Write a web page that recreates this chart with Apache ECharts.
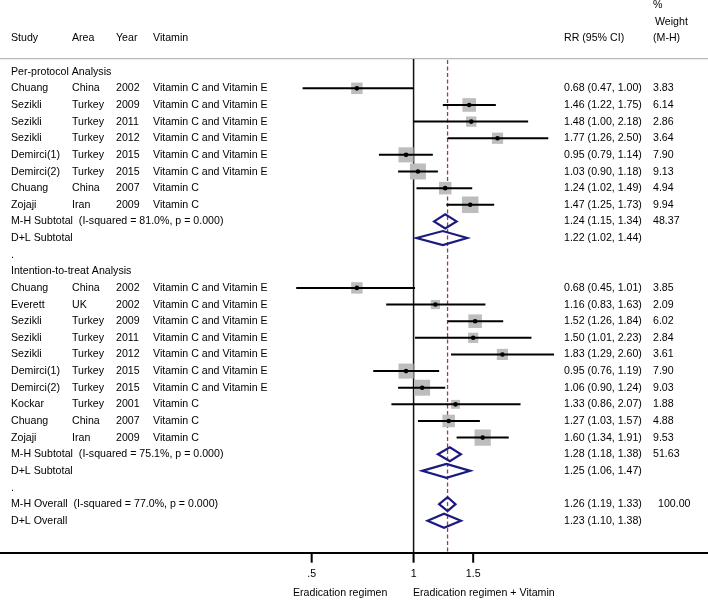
<!DOCTYPE html>
<html>
<head>
<meta charset="utf-8">
<script src="https://cdn.jsdelivr.net/npm/echarts@6/dist/echarts.min.js"></script>
<style>html,body{margin:0;padding:0;background:#fff}#c{width:708px;height:600px}</style>
</head>
<body>
<div id="c"></div>
<script>
// ---- data ----
const studyNames = ['Chuang','Sezikli','Sezikli','Sezikli','Demirci(1)','Demirci(2)','Chuang','Zojaji',
  'Chuang','Everett','Sezikli','Sezikli','Sezikli','Demirci(1)','Demirci(2)','Kockar','Chuang','Zojaji'];
const areas = ['China','Turkey','Turkey','Turkey','Turkey','Turkey','China','Iran',
  'China','UK','Turkey','Turkey','Turkey','Turkey','Turkey','Turkey','China','Iran'];
const years = ['2002','2009','2011','2012','2015','2015','2007','2009',
  '2002','2002','2009','2011','2012','2015','2015','2001','2007','2009'];
const vitamins = ['Vitamin C and Vitamin E','Vitamin C and Vitamin E','Vitamin C and Vitamin E','Vitamin C and Vitamin E','Vitamin C and Vitamin E','Vitamin C and Vitamin E','Vitamin C','Vitamin C',
  'Vitamin C and Vitamin E','Vitamin C and Vitamin E','Vitamin C and Vitamin E','Vitamin C and Vitamin E','Vitamin C and Vitamin E','Vitamin C and Vitamin E','Vitamin C and Vitamin E','Vitamin C','Vitamin C','Vitamin C'];
const rr = [0.68,1.46,1.48,1.77,0.95,1.03,1.24,1.47, 0.68,1.16,1.52,1.50,1.83,0.95,1.06,1.33,1.27,1.60];
const lo = [0.47,1.22,1.00,1.26,0.79,0.90,1.02,1.25, 0.45,0.83,1.26,1.01,1.29,0.76,0.90,0.86,1.03,1.34];
const hi = [1.00,1.75,2.18,2.50,1.14,1.18,1.49,1.73, 1.01,1.63,1.84,2.23,2.60,1.19,1.24,2.07,1.57,1.91];
const weights = [3.83,6.14,2.86,3.64,7.90,9.13,4.94,9.94, 3.85,2.09,6.02,2.84,3.61,7.90,9.03,1.88,4.88,9.53];
const studyRows = [1,2,3,4,5,6,7,8, 13,14,15,16,17,18,19,20,21,22];

const pooledLabels = ['M-H Subtotal  (I-squared = 81.0%, p = 0.000)','D+L Subtotal',
  'M-H Subtotal  (I-squared = 75.1%, p = 0.000)','D+L Subtotal',
  'M-H Overall  (I-squared = 77.0%, p = 0.000)','D+L Overall'];
const pooledRR = [1.24,1.22,1.28,1.25,1.26,1.23];
const pooledLo = [1.15,1.02,1.18,1.06,1.19,1.10];
const pooledHi = [1.34,1.44,1.38,1.47,1.33,1.38];
const pooledWeights = ['48.37','','51.63','','100.00',''];
const pooledRows = [9,10,23,24,26,27];

const sectionLabels = ['Per-protocol Analysis','.','Intention-to-treat Analysis','.'];
const sectionRows = [0,11,12,25];

const headerLabels = ['Study','Area','Year','Vitamin','RR (95% CI)','%','Weight','(M-H)'];
const tickValues = [0.5,1,1.5];
const tickLabels = ['.5','1','1.5'];
const overallRR = 1.26;
const xLabelLeft = 'Eradication regimen';
const xLabelRight = 'Eradication regimen + Vitamin';

// ---- layout (pixels) ----
const FONT = '11px "Liberation Sans", Arial, sans-serif';
const SX = 0.965;
const COL = {study:11, area:72, year:116, vit:153, rr:564, wt:653};
const AXIS_ROW = 28.92;
const TOP_ROW = -0.76;
const fmt = v => v.toFixed(2);
const ci = (a,b,c) => fmt(a) + ' (' + fmt(b) + ', ' + fmt(c) + ')';

// text table
const texts = [];
const hdr = [[COL.study,-2],[COL.area,-2],[COL.year,-2],[COL.vit,-2],[COL.rr,-2],[COL.wt,-4],[COL.wt+2,-3],[COL.wt,-2]];
headerLabels.forEach((t,i)=>texts.push({x:hdr[i][0], row:hdr[i][1], text:t}));
sectionLabels.forEach((t,i)=>texts.push({x:COL.study, row:sectionRows[i], text:t}));
studyNames.forEach((t,i)=>{
  const r = studyRows[i];
  texts.push({x:COL.study,row:r,text:t});
  texts.push({x:COL.area,row:r,text:areas[i]});
  texts.push({x:COL.year,row:r,text:years[i]});
  texts.push({x:COL.vit,row:r,text:vitamins[i]});
  texts.push({x:COL.rr,row:r,text:ci(rr[i],lo[i],hi[i])});
  texts.push({x:COL.wt,row:r,text:fmt(weights[i])});
});
pooledLabels.forEach((t,i)=>{
  const r = pooledRows[i];
  texts.push({x:COL.study,row:r,text:t});
  texts.push({x:COL.rr,row:r,text:ci(pooledRR[i],pooledLo[i],pooledHi[i])});
  if (pooledWeights[i]) texts.push({x:COL.wt + (pooledWeights[i].length>5?5:0),row:r,text:pooledWeights[i]});
});

const chart = echarts.init(document.getElementById('c'), null, {renderer:'canvas'});
const option = {
  animation:false,
  backgroundColor:'#fff',
  grid:{left:0,right:0,top:55.07,bottom:47.3,containLabel:false},
  xAxis:{type:'log',logBase:10,min:0.06,max:7.41,
    axisLine:{show:true,onZero:false,lineStyle:{color:'#000',width:2}},
    axisTick:{show:false},axisLabel:{show:false},splitLine:{show:false}},
  yAxis:{type:'value',inverse:true,min:-1,max:AXIS_ROW,show:false},
  graphic:[
    {type:'text',x:293,y:593,scaleX:SX,style:{text:xLabelLeft,font:FONT,fill:'#000',align:'left',verticalAlign:'middle'}},
    {type:'text',x:413,y:593,scaleX:SX,style:{text:xLabelRight,font:FONT,fill:'#000',align:'left',verticalAlign:'middle'}}
  ],
  series:[
    { // reference lines
      type:'custom', coordinateSystem:'cartesian2d', clip:false,
      data:[[1,TOP_ROW]],
      renderItem:(p,api)=>{
        const a = api.coord([1,TOP_ROW]), b = api.coord([1,AXIS_ROW]);
        const c = api.coord([overallRR,TOP_ROW]), d = api.coord([overallRR,AXIS_ROW]);
        return {type:'group',children:[
          {type:'line',shape:{x1:0,y1:a[1]-0.5,x2:708,y2:a[1]-0.5},style:{stroke:'#b8b8b8',lineWidth:1.3}},
          {type:'line',shape:{x1:a[0],y1:a[1],x2:b[0],y2:b[1]},style:{stroke:'#111',lineWidth:1.5}},
          {type:'line',shape:{x1:c[0],y1:c[1]+1,x2:d[0],y2:d[1]},style:{stroke:'#a33a4a',lineWidth:1.3,lineDash:[4,2.5]}}
        ]};
      }
    },
    { // studies
      type:'custom', coordinateSystem:'cartesian2d', clip:false, z:3,
      data: rr.map((v,i)=>[v,studyRows[i],lo[i],hi[i],weights[i]]),
      encode:{x:0,y:1},
      renderItem:(p,api)=>{
        const c = api.coord([api.value(0),api.value(1)]);
        const l = api.coord([api.value(2),api.value(1)]);
        const h = api.coord([api.value(3),api.value(1)]);
        const s = 3 + 4.3*Math.sqrt(api.value(4));
        return {type:'group',children:[
          {type:'rect',shape:{x:c[0]-s/2,y:c[1]-s/2,width:s,height:s},style:{fill:'#bdbdbd'}},
          {type:'line',shape:{x1:l[0],y1:l[1],x2:h[0],y2:h[1]},style:{stroke:'#000',lineWidth:2}},
          {type:'circle',shape:{cx:c[0],cy:c[1],r:2.3},style:{fill:'#000'}}
        ]};
      }
    },
    { // pooled diamonds
      type:'custom', coordinateSystem:'cartesian2d', clip:false, z:3,
      data: pooledRR.map((v,i)=>[v,pooledRows[i],pooledLo[i],pooledHi[i]]),
      encode:{x:0,y:1},
      renderItem:(p,api)=>{
        const c = api.coord([api.value(0),api.value(1)]);
        const l = api.coord([api.value(2),api.value(1)]);
        const h = api.coord([api.value(3),api.value(1)]);
        const hh = 7;
        return {type:'polygon',shape:{points:[[l[0],l[1]],[c[0],c[1]-hh],[h[0],h[1]],[c[0],c[1]+hh]]},
          style:{fill:'none',stroke:'#1a1a80',lineWidth:2.2}};
      }
    },
    { // axis ticks & labels
      type:'custom', coordinateSystem:'cartesian2d', clip:false, z:4,
      data: tickValues.map(v=>[v,AXIS_ROW]),
      encode:{x:0,y:1},
      renderItem:(p,api)=>{
        const c = api.coord([api.value(0),api.value(1)]);
        return {type:'group',children:[
          {type:'line',shape:{x1:c[0],y1:c[1],x2:c[0],y2:c[1]+10},style:{stroke:'#000',lineWidth:2}},
          {type:'text',x:c[0],y:c[1]+21,scaleX:SX,style:{text:tickLabels[p.dataIndex],font:FONT,fill:'#000',align:'center',verticalAlign:'middle'}}
        ]};
      }
    },
    { // text table
      type:'custom', coordinateSystem:'cartesian2d', clip:false, z:5,
      data: texts.map(t=>[1,t.row]),
      encode:{x:0,y:1},
      renderItem:(p,api)=>{
        const t = texts[p.dataIndex];
        const c = api.coord([1,t.row]);
        return {type:'text',x:t.x,y:c[1],scaleX:SX,style:{text:t.text,font:FONT,fill:'#000',align:'left',verticalAlign:'middle'}};
      }
    }
  ]
};
chart.setOption(option);
</script>
</body>
</html>
